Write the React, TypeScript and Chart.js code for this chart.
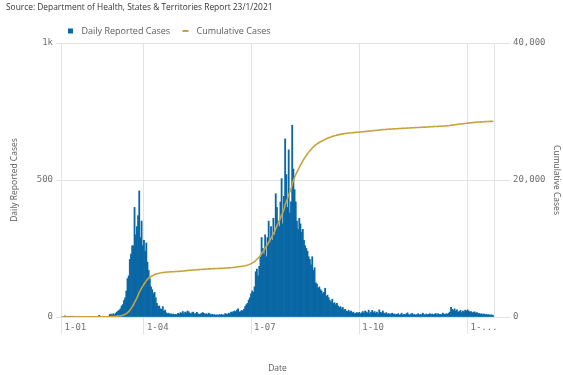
import { useEffect, useRef } from 'react';
import { Chart, registerables } from 'chart.js';

Chart.register(...registerables);

// Daily reported cases, 22 Jan 2020 – 23 Jan 2021 (one value per day)
const jan2020 = [0, 0, 0, 4, 0, 1, 0, 2, 1, 0];
const feb2020 = [3, 1, 0, 1, 0, 0, 0, 0, 0, 0, 0, 0, 0, 0, 0, 0, 0, 0, 0, 0, 0, 0, 6, 0, 0, 0, 0, 2, 2];
const mar2020 = [2, 3, 9, 11, 8, 12, 8, 14, 18, 22, 25, 30, 40, 45, 60, 70, 95, 140, 150, 210, 230, 260, 260, 400, 300, 330, 370, 460, 290, 350, 260];
const apr2020 = [280, 240, 270, 200, 170, 140, 110, 100, 85, 90, 70, 50, 40, 40, 30, 28, 38, 22, 25, 15, 12, 14, 10, 12, 9, 11, 8, 10, 8, 13];
const may2020 = [10, 16, 14, 20, 12, 18, 15, 22, 19, 14, 12, 16, 18, 10, 13, 17, 12, 9, 11, 14, 16, 13, 10, 12, 9, 14, 11, 8, 10, 7, 9];
const jun2020 = [6, 8, 5, 9, 7, 10, 6, 8, 12, 11, 9, 14, 12, 18, 16, 20, 22, 19, 25, 30, 18, 20, 24, 22, 28, 38, 45, 50, 62, 70];
const jul2020 = [85, 95, 90, 110, 165, 175, 150, 185, 220, 290, 250, 230, 300, 220, 290, 350, 270, 330, 280, 360, 300, 450, 400, 350, 330, 420, 505, 340, 440, 650, 520];
const aug2020 = [400, 610, 380, 420, 700, 540, 465, 420, 350, 320, 360, 340, 310, 320, 280, 260, 250, 240, 220, 210, 190, 220, 170, 180, 125, 120, 105, 110, 100, 95, 85];
const sep2020 = [90, 105, 75, 80, 70, 60, 55, 65, 50, 52, 45, 50, 40, 35, 38, 30, 35, 25, 28, 22, 20, 25, 18, 22, 15, 18, 12, 14, 16, 13];
const oct2020 = [17, 12, 15, 20, 14, 22, 18, 15, 25, 12, 18, 24, 16, 20, 14, 18, 12, 26, 17, 15, 22, 14, 12, 16, 10, 13, 9, 12, 14, 10, 11];
const nov2020 = [8, 10, 12, 7, 9, 14, 6, 10, 8, 12, 15, 9, 7, 11, 13, 8, 10, 6, 9, 12, 7, 10, 8, 14, 9, 7, 11, 8, 10, 12];
const dec2020 = [9, 11, 8, 10, 13, 7, 12, 9, 10, 8, 14, 11, 9, 12, 10, 14, 18, 35, 28, 24, 30, 22, 26, 18, 20, 24, 16, 22, 19, 25, 21];
const jan2021 = [26, 22, 18, 20, 15, 17, 19, 14, 16, 12, 13, 10, 12, 9, 11, 8, 10, 7, 9, 6, 8, 7, 5];

const dailyCases = [
  ...jan2020, ...feb2020, ...mar2020, ...apr2020, ...may2020, ...jun2020,
  ...jul2020, ...aug2020, ...sep2020, ...oct2020, ...nov2020, ...dec2020, ...jan2021,
];

const startDate = '2020-01-22';
const tickDates = ['2020-01-22', '2020-04-01', '2020-07-01', '2020-10-01', '2021-01-01'];
const tickLabels = ['1-01', '1-04', '1-07', '1-10', '1-...'];
const leftTicks = [0, 500, 1000];
const leftTickLabels = ['0', '500', '1k'];
const rightTicks = [0, 20000, 40000];
const rightTickLabels = ['0', '20,000', '40,000'];

const SOURCE = 'Source: Department of Health, States & Territories Report 23/1/2021';
const BAR_COLOR = '#0a67a5';
const LINE_COLOR = '#c8a23e';
const GRID = '#e3e3e3';
const TICK_COLOR = '#707070';
const TEXT_COLOR = '#5a5a5a';
const SANS = '"Open Sans", "Noto Sans", sans-serif';
const MONO = '"DejaVu Sans Mono", monospace';

function buildDayLabels(): string[] {
  const start = Date.parse(startDate + 'T00:00:00Z');
  return dailyCases.map((_, i) => new Date(start + i * 86400000).toISOString().slice(0, 10));
}

function runningTotal(values: number[]): number[] {
  const out: number[] = [];
  let s = 0;
  for (const v of values) {
    s += v;
    out.push(s);
  }
  return out;
}

const headerPlugin = {
  id: 'header',
  afterDraw(chart: any) {
    const ctx = chart.ctx;
    const area = chart.chartArea;
    ctx.save();
    ctx.textBaseline = 'middle';
    ctx.textAlign = 'left';
    ctx.font = `8.4px ${SANS}`;
    ctx.fillStyle = '#333333';
    ctx.fillText(SOURCE, 6, 7.5);

    const y = 31;
    ctx.font = `9px ${SANS}`;
    let x = area.left + 7;
    ctx.fillStyle = BAR_COLOR;
    ctx.fillRect(x, y - 2.5, 5, 5);
    x += 13.5;
    ctx.fillStyle = TEXT_COLOR;
    ctx.fillText('Daily Reported Cases', x, y);
    x += ctx.measureText('Daily Reported Cases').width + 12.5;
    ctx.strokeStyle = LINE_COLOR;
    ctx.lineWidth = 2;
    ctx.beginPath();
    ctx.moveTo(x, y);
    ctx.lineTo(x + 6, y);
    ctx.stroke();
    x += 14;
    ctx.fillText('Cumulative Cases', x, y);
    ctx.restore();
  },
};

export default function App() {
  const ref = useRef<HTMLCanvasElement | null>(null);

  useEffect(() => {
    const canvas = ref.current;
    if (!canvas) return;
    const labels = buildDayLabels();
    const cumulative = runningTotal(dailyCases);

    const chart = new Chart(canvas, {
      type: 'bar',
      data: {
        labels,
        datasets: [
          {
            type: 'bar',
            label: 'Daily Reported Cases',
            data: dailyCases,
            backgroundColor: BAR_COLOR,
            borderWidth: 0,
            barPercentage: 1,
            categoryPercentage: 1,
            yAxisID: 'y',
            order: 1,
          } as any,
          {
            type: 'line',
            label: 'Cumulative Cases',
            data: cumulative,
            borderColor: LINE_COLOR,
            borderWidth: 1.6,
            pointRadius: 0,
            tension: 0,
            yAxisID: 'y1',
            order: 0,
          } as any,
        ],
      },
      options: {
        responsive: false,
        animation: false,
        devicePixelRatio: 1,
        layout: { padding: { left: 6, top: 43, right: 0, bottom: 0 } },
        plugins: {
          legend: { display: false },
          title: { display: false },
          tooltip: { enabled: false },
        },
        scales: {
          x: {
            type: 'category',
            offset: true,
            grid: { color: GRID, tickColor: GRID, tickLength: 17, offset: false },
            border: { display: true, color: GRID },
            ticks: {
              autoSkip: false,
              maxRotation: 0,
              minRotation: 0,
              align: 'start',
              labelOffset: 3,
              padding: -12,
              color: TICK_COLOR,
              font: { family: MONO, size: 9 },
              callback: (_v: any, index: number) => {
                const k = tickDates.indexOf(labels[index]);
                return k >= 0 ? tickLabels[k] : null;
              },
            },
            title: {
              display: true,
              text: 'Date',
              color: TEXT_COLOR,
              font: { family: SANS, size: 8.5 },
              padding: { top: 0, bottom: 1 },
            },
            afterFit: (s: any) => {
              s.height = 58;
            },
          },
          y: {
            position: 'left',
            min: 0,
            max: 1000,
            afterBuildTicks: (s: any) => {
              s.ticks = leftTicks.map((v) => ({ value: v }));
            },
            ticks: {
              padding: 3,
              color: TICK_COLOR,
              font: { family: MONO, size: 9 },
              callback: (v: any) => leftTickLabels[leftTicks.indexOf(Number(v))],
            },
            grid: { color: GRID, tickColor: GRID, tickLength: 5 },
            border: { display: true, color: GRID },
            title: {
              display: true,
              text: 'Daily Reported Cases',
              color: TEXT_COLOR,
              font: { family: SANS, size: 8.5 },
              padding: { top: 3, bottom: 0 },
            },
            afterFit: (s: any) => {
              s.width = 55;
            },
          },
          y1: {
            position: 'right',
            min: 0,
            max: 40000,
            afterBuildTicks: (s: any) => {
              s.ticks = rightTicks.map((v) => ({ value: v }));
            },
            ticks: {
              padding: 3,
              color: TICK_COLOR,
              font: { family: MONO, size: 9 },
              callback: (v: any) => rightTickLabels[rightTicks.indexOf(Number(v))],
            },
            grid: { drawOnChartArea: false, color: GRID, tickColor: GRID, tickLength: 16 },
            border: { display: true, color: GRID },
            title: {
              display: true,
              text: 'Cumulative Cases',
              color: TEXT_COLOR,
              font: { family: SANS, size: 8.5 },
              padding: { top: 1, bottom: 0 },
            },
            afterFit: (s: any) => {
              s.width = 69;
            },
          },
        },
      } as any,
      plugins: [headerPlugin],
    });

    return () => chart.destroy();
  }, []);

  return (
    <div style={{ position: 'absolute', left: 0, top: 0, width: 563, height: 375, background: '#ffffff' }}>
      <canvas ref={ref} width={563} height={375} />
    </div>
  );
}
